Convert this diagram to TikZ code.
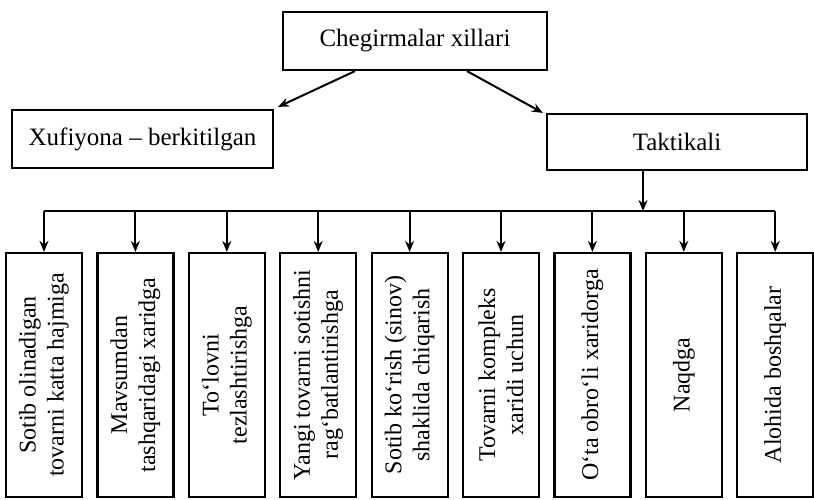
\documentclass[tikz,border=0pt]{standalone}
\usepackage{fontspec}
\setmainfont{Liberation Serif}
\usetikzlibrary{arrows.meta}

\begin{document}
\begin{tikzpicture}[
  x=1pt,y=-1pt,
  >={Stealth[length=11pt,width=9pt]},
  box/.style={draw=black,line width=2.2pt,align=center,inner sep=2pt},
  headBox/.style={box,font=\fontsize{25}{30}\selectfont,minimum height=58pt},
  kindBox/.style={box,rotate=90,font=\fontsize{24}{28}\selectfont,
                  minimum width=244pt,minimum height=76pt},
  link/.style={draw=black,line width=2pt},
]
\useasboundingbox (0,0) rectangle (814,500);

% ---- top levels -----------------------------------------------------------
\node[headBox,minimum width=264pt] (root)   at (415,41)  {Chegirmalar xillari};
\node[headBox,minimum width=261pt] (hidden) at (142.5,139) {Xufiyona -- berkitilgan};
\node[headBox,minimum width=260pt,minimum height=56pt] (tact) at (677,142) {Taktikali};

% ---- tactical kinds (rotated) ---------------------------------------------
\node[kindBox] (k1) at ( 44.0,375) {Sotib olinadigan\\tovarni katta hajmiga};
\node[kindBox] (k2) at (135.4,375) {Mavsumdan\\tashqaridagi xaridga};
\node[kindBox] (k3) at (226.8,375) {To‘lovni\\tezlashtirishga};
\node[kindBox] (k4) at (318.2,375) {Yangi tovarni sotishni\\rag‘batlantirishga};
\node[kindBox] (k5) at (409.6,375) {Sotib ko‘rish (sinov)\\shaklida chiqarish};
\node[kindBox] (k6) at (501.0,375) {Tovarni kompleks\\xaridi uchun};
\node[kindBox] (k7) at (592.4,375) {O‘ta obro‘li xaridorga};
\node[kindBox] (k8) at (683.8,375) {Naqdga};
\node[kindBox] (k9) at (775.2,375) {Alohida boshqalar};

\coordinate (split) at (643,211);

% ---- connectors -----------------------------------------------------------
\draw[link,->] ([xshift=-60pt]root.south) -- ([xshift=4pt,yshift=2pt]hidden.north east);
\draw[link,->] ([xshift=52pt]root.south) -- ([xshift=-3pt]tact.north west);
\draw[link,->] (tact.south -| split) -- (split);
\draw[link] (k1.east |- split) -- (k9.east |- split);
\draw[link,->] (k1.east |- split) -- (k1.east);
\draw[link,->] (k2.east |- split) -- (k2.east);
\draw[link,->] (k3.east |- split) -- (k3.east);
\draw[link,->] (k4.east |- split) -- (k4.east);
\draw[link,->] (k5.east |- split) -- (k5.east);
\draw[link,->] (k6.east |- split) -- (k6.east);
\draw[link,->] (k7.east |- split) -- (k7.east);
\draw[link,->] (k8.east |- split) -- (k8.east);
\draw[link,->] (k9.east |- split) -- (k9.east);

\end{tikzpicture}
\end{document}
